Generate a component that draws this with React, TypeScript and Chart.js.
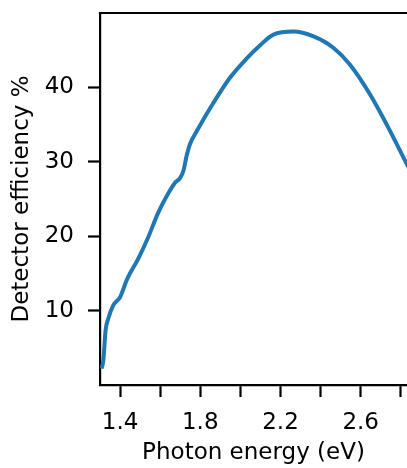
import React, { useEffect, useRef } from 'react';
import { Chart, registerables } from 'chart.js';
Chart.register(...registerables);

const energy = [1.308, 1.317, 1.328, 1.341, 1.366, 1.40, 1.411, 1.433, 1.491, 1.541, 1.591, 1.633, 1.674, 1.699, 1.716, 1.732, 1.749, 1.782, 1.865, 1.948, 2.032, 2.1, 2.165, 2.265, 2.365, 2.465, 2.547, 2.647, 2.73, 2.83, 2.9];
const efficiency = [2.2, 3.4, 7.4, 8.9, 10.7, 11.8, 12.5, 14.1, 17.0, 19.9, 23.2, 25.4, 27.2, 27.8, 28.8, 30.8, 32.4, 34.1, 37.9, 41.3, 43.9, 45.7, 47.1, 47.5, 46.85, 45.3, 43.05, 39.05, 35.0, 29.7, 26.0];
const xTicks = [1.4, 1.6, 1.8, 2.0, 2.2, 2.4, 2.6, 2.8];
const xLabelled = [1.4, 1.8, 2.2, 2.6];
const yTicks = [10, 20, 30, 40];

const FONT = { family: "'DejaVu Sans', sans-serif", size: 23 };

function zeroPad(s: any) {
  s.paddingTop = 0;
  s.paddingBottom = 0;
  s.paddingLeft = 0;
  s.paddingRight = 0;
}

export default function App() {
  const ref = useRef<HTMLCanvasElement>(null);
  useEffect(() => {
    document.body.style.margin = '0';
    const topSpine = {
      id: 'topSpine',
      afterDraw(chart: any) {
        const { ctx, chartArea } = chart;
        ctx.save();
        ctx.strokeStyle = '#000';
        ctx.lineWidth = 2.2;
        ctx.beginPath();
        ctx.moveTo(chartArea.left - 1.1, chartArea.top);
        ctx.lineTo(chartArea.right, chartArea.top);
        ctx.stroke();
        ctx.restore();
      },
    };
    const chart = new Chart(ref.current as HTMLCanvasElement, {
      type: 'line',
      data: {
        datasets: [
          {
            data: energy.map((x, i) => ({ x, y: efficiency[i] })),
            borderColor: '#1f77b4',
            borderWidth: 4,
            pointRadius: 0,
            cubicInterpolationMode: 'monotone',
            fill: false,
          },
        ],
      },
      options: {
        responsive: false,
        animation: false,
        layout: { padding: { top: 13, right: 0, left: 0, bottom: 0 } },
        plugins: { legend: { display: false }, tooltip: { enabled: false } },
        scales: {
          x: {
            type: 'linear',
            min: 1.3,
            max: 2.831,
            afterFit(s: any) { s.height = 83; zeroPad(s); },
            afterBuildTicks(s: any) { s.ticks = xTicks.map((v) => ({ value: v })); },
            ticks: {
              autoSkip: false,
              maxRotation: 0,
              color: '#000',
              font: FONT,
              padding: 12,
              callback: (v: any) => (xLabelled.some((l) => Math.abs(l - Number(v)) < 1e-6) ? Number(v).toFixed(1) : ''),
            },
            grid: { display: true, drawOnChartArea: false, drawTicks: true, tickLength: 12, tickWidth: 2.2, tickColor: '#000' },
            border: { display: true, color: '#000', width: 2.2 },
            title: { display: true, text: 'Photon energy (eV)', color: '#000', font: FONT, padding: { top: 0, bottom: 1 } },
          },
          y: {
            type: 'linear',
            min: 0,
            max: 50,
            afterFit(s: any) { s.width = 100; zeroPad(s); },
            afterBuildTicks(s: any) { s.ticks = yTicks.map((v) => ({ value: v })); },
            ticks: { color: '#000', font: FONT, padding: 14, callback: (v: any) => String(v) },
            grid: { display: true, drawOnChartArea: false, drawTicks: true, tickLength: 12, tickWidth: 2.2, tickColor: '#000' },
            border: { display: true, color: '#000', width: 2.2 },
            title: { display: true, text: 'Detector efficiency %', color: '#000', font: FONT, padding: { top: 8, bottom: 0 } },
          },
        },
      },
      plugins: [topSpine],
    });
    return () => chart.destroy();
  }, []);
  return <canvas ref={ref} width={407} height={468} style={{ display: 'block' }} />;
}
